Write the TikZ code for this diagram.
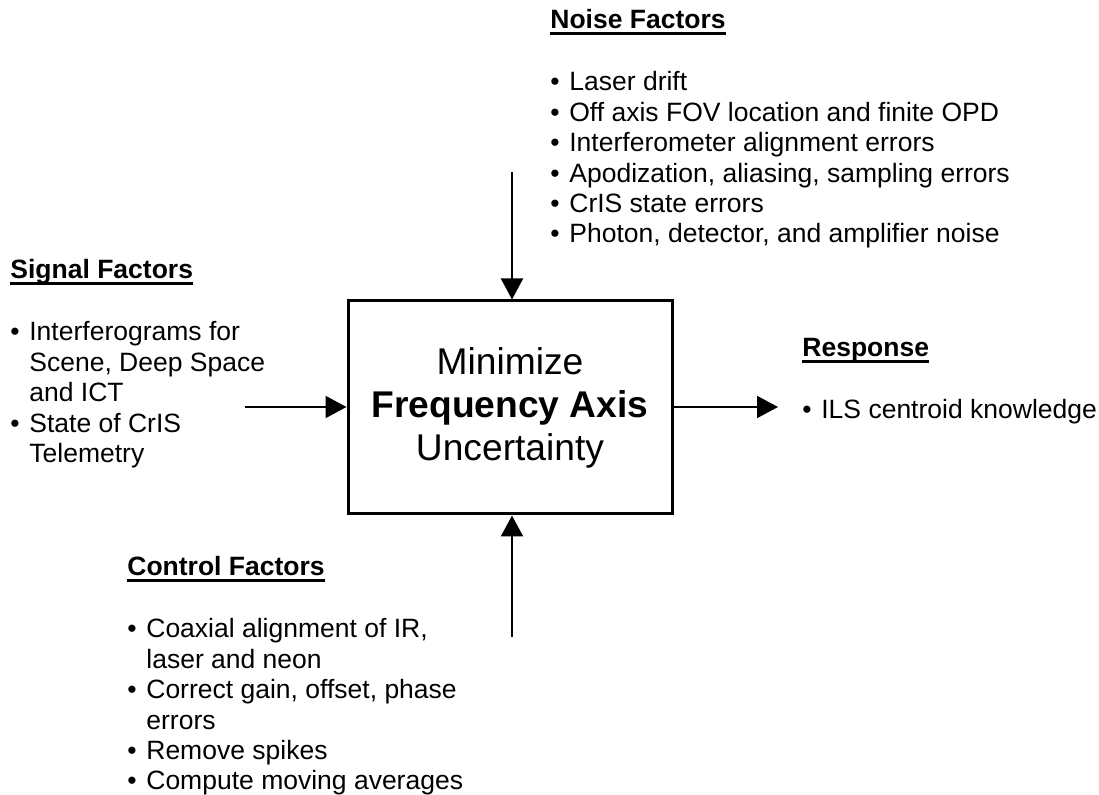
\documentclass[tikz,border=0pt]{standalone}
\usepackage{fontspec}
\setmainfont{Liberation Sans}
\usetikzlibrary{arrows.meta,positioning}
\newcommand\ulhead[1]{\setbox0=\hbox{#1}\rlap{\rule[-2.8pt]{\wd0}{1.5pt}}\box0}
\newcommand\bul{\makebox[9.5pt][l]{\textbullet}}

\begin{document}
\begin{tikzpicture}[x=0.5pt,y=-0.5pt,
  heading/.style={anchor=base west,inner sep=0pt,font=\fontsize{13.25}{15.2}\selectfont\bfseries},
  items/.style={anchor=base west,inner sep=0pt,font=\fontsize{13.25}{15.2}\selectfont},
  goal/.style={draw,line width=1.5pt,minimum width=162pt,minimum height=106.5pt,
    align=center,font=\fontsize{18.6}{21.5}\selectfont},
  flow/.style={line width=1pt,-{Triangle[width=11pt,length=10.5pt]}}]
\useasboundingbox (0,0) rectangle (1099,795);
% central box
\node[goal] (box) at (510,407.5) {Minimize\\\textbf{Frequency Axis}\\Uncertainty};
% headings
\node[heading] (nhead) at (550,29) {\ulhead{Noise Factors}};
\node[heading] (shead) at (10,279) {\ulhead{Signal Factors}};
\node[heading] (rhead) at (802,357) {\ulhead{Response}};
\node[heading] (chead) at (127,576) {\ulhead{Control Factors}};
% lists
\node[items,below=31pt of nhead.base west,anchor=base west] (nlist) {%
  \begin{tabular}[t]{@{}l@{}l@{}}
  \bul & Laser drift\\
  \bul & Off axis FOV location and finite OPD\\
  \bul & Interferometer alignment errors\\
  \bul & Apodization, aliasing, sampling errors\\
  \bul & CrIS state errors\\
  \bul & Photon, detector, and amplifier noise
  \end{tabular}};
\node[items,below=31pt of shead.base west,anchor=base west] (slist) {%
  \begin{tabular}[t]{@{}l@{}l@{}}
  \bul & Interferograms for\\
       & Scene, Deep Space\\
       & and ICT\\
  \bul & State of CrIS\\
       & Telemetry
  \end{tabular}};
\node[items,below=31pt of rhead.base west,anchor=base west] (rlist) {%
  \begin{tabular}[t]{@{}l@{}l@{}}
  \bul & ILS centroid knowledge
  \end{tabular}};
\node[items,below=31pt of chead.base west,anchor=base west] (clist) {%
  \begin{tabular}[t]{@{}l@{}l@{}}
  \bul & Coaxial alignment of IR,\\
       & laser and neon\\
  \bul & Correct gain, offset, phase\\
       & errors\\
  \bul & Remove spikes\\
  \bul & Compute moving averages
  \end{tabular}};
% arrows
\coordinate (ntop) at (512,172);
\coordinate (cbot) at (512,637);
\coordinate (sleft) at (245,407);
\coordinate (rend) at (778,407);
\draw[flow] (ntop) -- (ntop |- box.north);
\draw[flow] (cbot) -- (cbot |- box.south);
\draw[flow] (sleft) -- (sleft -| box.west);
\draw[flow] (box.east |- rend) -- (rend);
\end{tikzpicture}
\end{document}
